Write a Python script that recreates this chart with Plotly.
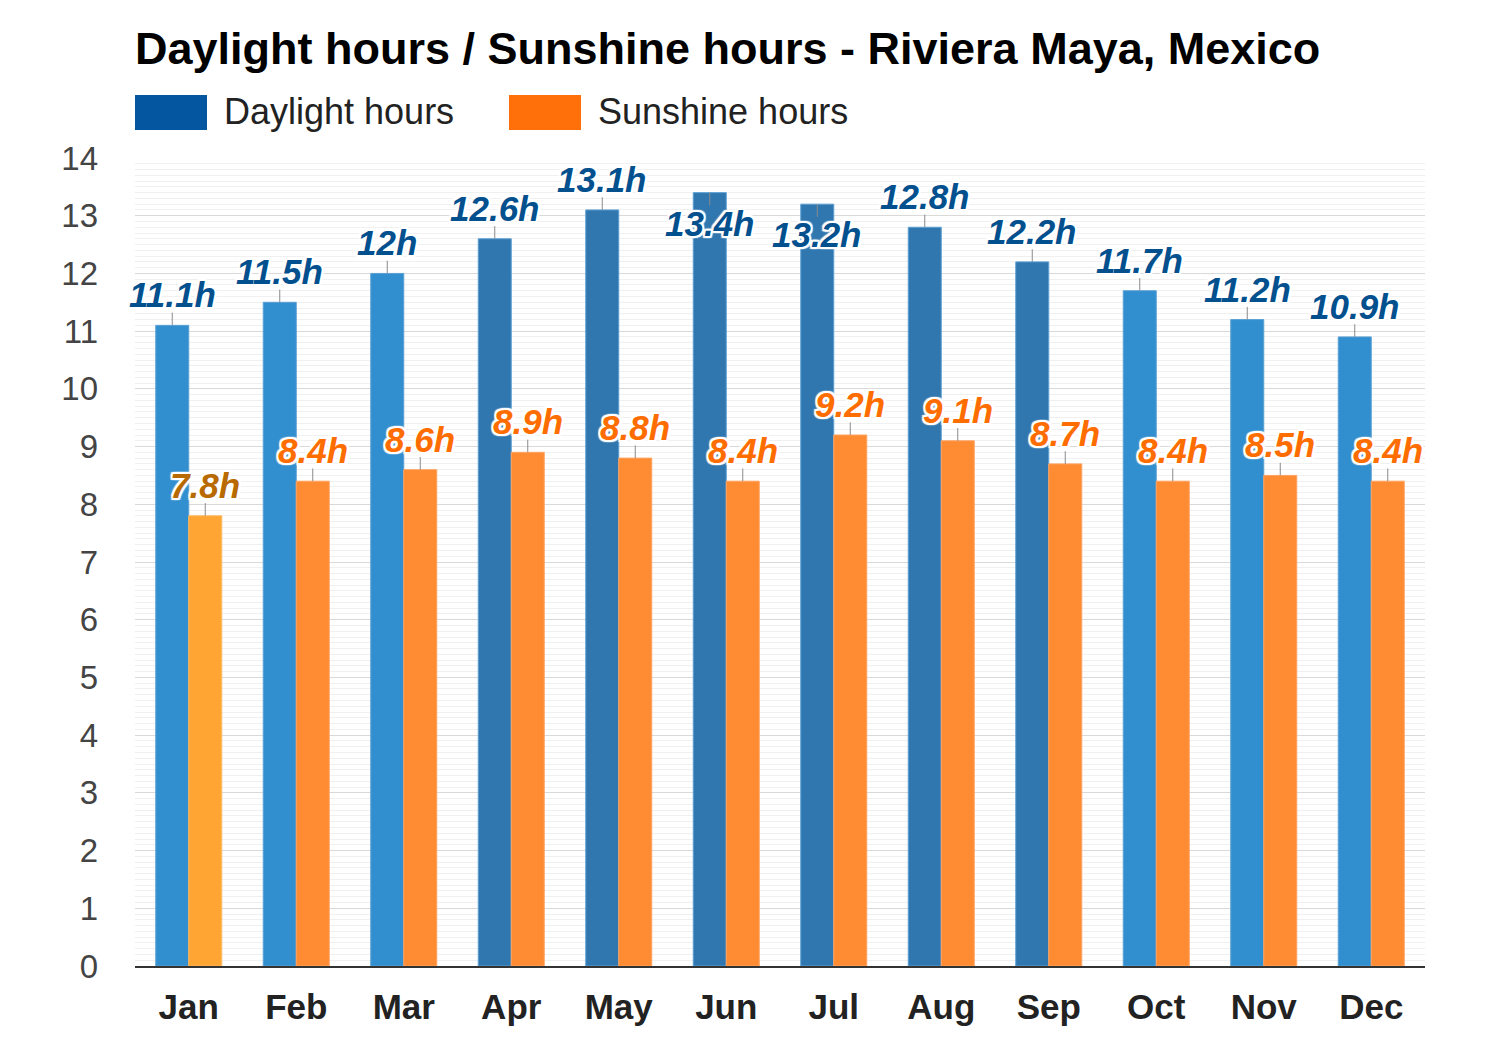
import plotly.graph_objects as go

months = ["Jan", "Feb", "Mar", "Apr", "May", "Jun", "Jul", "Aug", "Sep", "Oct", "Nov", "Dec"]
daylight = [11.1, 11.5, 12.0, 12.6, 13.1, 13.4, 13.2, 12.8, 12.2, 11.7, 11.2, 10.9]
sunshine = [7.8, 8.4, 8.6, 8.9, 8.8, 8.4, 9.2, 9.1, 8.7, 8.4, 8.5, 8.4]
daylight_labels = ["11.1h", "11.5h", "12h", "12.6h", "13.1h", "13.4h", "13.2h", "12.8h", "12.2h", "11.7h", "11.2h", "10.9h"]
sunshine_labels = ["7.8h", "8.4h", "8.6h", "8.9h", "8.8h", "8.4h", "9.2h", "9.1h", "8.7h", "8.4h", "8.5h", "8.4h"]
yticks = list(range(0, 15))

LIGHT_BLUE = "#318fcf"
DARK_BLUE = "#3077af"
blue_fill = [LIGHT_BLUE, LIGHT_BLUE, LIGHT_BLUE, DARK_BLUE, DARK_BLUE, DARK_BLUE,
             DARK_BLUE, DARK_BLUE, DARK_BLUE, LIGHT_BLUE, LIGHT_BLUE, LIGHT_BLUE]
orange_fill = ["#ffa533"] + ["#ff8c33"] * 11
orange_line = ["#ffb85c"] + ["#ffa261"] * 11
sun_label_colors = ["#b86a00"] + ["#ff6d00"] * 11
BLUE_LABEL = "#03508f"

FONT = "Liberation Sans, Arial, sans-serif"
TOP_LIMIT = 13.15  # labels of bars above this are drawn inside the bar
TICK = 0.22

# page body has an 8px margin; compensate so the plot lands where the reference has it
OFF = 8
W, H = 1500, 1050
ML, MT = 135 - OFF, 158 - OFF
PW, PH = 1290, 808
MR, MB = W - ML - PW, H - MT - PH


def px_x(px):
    return (px - OFF - ML) / PW


def px_y(py):
    return (MT + PH - (py - OFF)) / PH


up_d = [0 if v > TOP_LIMIT else TICK for v in daylight]
down_d = [TICK if v > TOP_LIMIT else 0 for v in daylight]

fig = go.Figure()
fig.add_trace(go.Bar(
    x=months, y=daylight, name="Daylight hours",
    marker=dict(color=blue_fill, line=dict(color="#5b9fd3", width=1)),
    error_y=dict(type="data", symmetric=False, array=up_d, arrayminus=down_d,
                 color="#8a8a8a", thickness=1, width=0),
    hoverinfo="skip", showlegend=False,
))
fig.add_trace(go.Bar(
    x=months, y=sunshine, name="Sunshine hours",
    marker=dict(color=orange_fill, line=dict(color=orange_line, width=1)),
    error_y=dict(type="data", symmetric=False, array=[TICK] * 12, arrayminus=[0] * 12,
                 color="#8a8a8a", thickness=1, width=0),
    hoverinfo="skip", showlegend=False,
))

shadow = "2px 2px 1px white, -2px -2px 1px white, 2px -2px 1px white, -2px 2px 1px white, 0px 2px 1px white, 0px -2px 1px white, 2px 0px 1px white, -2px 0px 1px white"
LABEL_SIZE = 35
annotations = []
for m, v, t in zip(months, daylight, daylight_labels):
    inside = v > TOP_LIMIT
    annotations.append(dict(
        x=m, y=v, xref="x", yref="y", text=t, showarrow=False,
        xshift=-16.5, yanchor="top" if inside else "bottom",
        yshift=-9 if inside else 9,
        font=dict(family=FONT, size=LABEL_SIZE, color=BLUE_LABEL, weight="bold", style="italic", shadow=shadow),
    ))
for m, v, t, c in zip(months, sunshine, sunshine_labels, sun_label_colors):
    annotations.append(dict(
        x=m, y=v, xref="x", yref="y", text=t, showarrow=False,
        xshift=16.5, yanchor="bottom", yshift=9,
        font=dict(family=FONT, size=LABEL_SIZE, color=c, weight="bold", style="italic", shadow=shadow),
    ))

# legend (drawn manually to match the reference's large swatches)
annotations.append(dict(x=px_x(222), y=px_y(112), xref="paper", yref="paper", text="Daylight hours",
                        showarrow=False, xanchor="left", yanchor="middle",
                        font=dict(family=FONT, size=36, color="#222222")))
annotations.append(dict(x=px_x(596), y=px_y(112), xref="paper", yref="paper", text="Sunshine hours",
                        showarrow=False, xanchor="left", yanchor="middle",
                        font=dict(family=FONT, size=36, color="#222222")))
shapes = [
    dict(type="rect", xref="paper", yref="paper", x0=px_x(135), x1=px_x(207), y0=px_y(130), y1=px_y(95),
         fillcolor="#0556a0", line=dict(width=0)),
    dict(type="rect", xref="paper", yref="paper", x0=px_x(509), x1=px_x(581), y0=px_y(130), y1=px_y(95),
         fillcolor="#ff6f0a", line=dict(width=0)),
]

fig.update_layout(
    width=W, height=H,
    margin=dict(l=ML, r=MR, t=MT, b=MB, autoexpand=False),
    paper_bgcolor="white", plot_bgcolor="white",
    title=dict(text="Daylight hours / Sunshine hours - Riviera Maya, Mexico",
               x=px_x(135), xref="paper", xanchor="left", y=1 - (48 - OFF) / H, yanchor="middle",
               font=dict(family=FONT, size=45, color="black", weight="bold")),
    barmode="group", bargap=0.386, bargroupgap=0,
    annotations=annotations, shapes=shapes,
    showlegend=False,
)
fig.update_xaxes(
    type="category", range=[-0.5, len(months) - 0.5], autorange=False,
    automargin=False, showgrid=False, showline=True, linecolor="#333333", linewidth=2,
    ticks="", ticklabelstandoff=9,
    tickfont=dict(family=FONT, size=35, color="#222222", weight="bold"),
)
fig.update_yaxes(
    automargin=False, range=[0, 14], tickvals=yticks, ticktext=[str(v) for v in yticks],
    showgrid=True, gridcolor="#d9d9d9", gridwidth=1,
    minor=dict(dtick=0.1, showgrid=True, gridcolor="#f0f0f0", gridwidth=1, ticks=""),
    zeroline=False, ticks="", ticklabelstandoff=36,
    tickfont=dict(family=FONT, size=33, color="#444444"),
)

fig.write_html("out.html")
